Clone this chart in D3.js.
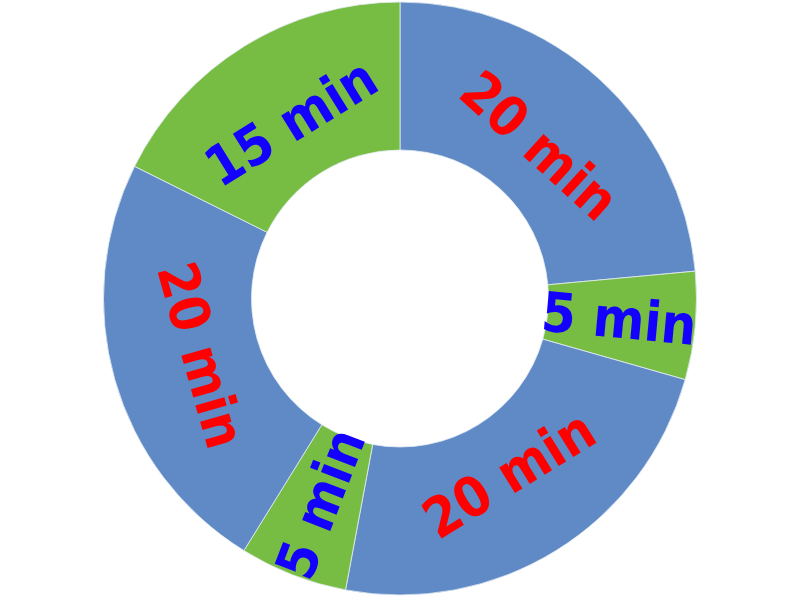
<!DOCTYPE html>
<html>
<head>
<meta charset="utf-8">
<script src="https://cdn.jsdelivr.net/npm/d3@7"></script>
<style>
html, body { margin: 0; padding: 0; background: #fff; }
svg { display: block; }
</style>
</head>
<body>
<svg id="chart" width="800" height="600"></svg>
<script>
const labels = ["20 min", "5 min", "20 min", "5 min", "20 min", "15 min"];
const values = [20, 5, 20, 5, 20, 15];
const sliceColors = ["#5f8ac6", "#77bd43", "#5f8ac6", "#77bd43", "#5f8ac6", "#77bd43"];
const labelColors = ["#ff0000", "#1400ff", "#ff0000", "#1400ff", "#ff0000", "#1400ff"];

const W = 800, H = 600;
const cx = 400, cy = 298.5;
const outerR = 296.5, innerR = 148.5;

const svg = d3.select("#chart");
const g = svg.append("g").attr("transform", `translate(${cx},${cy})`);

const pie = d3.pie().sort(null).value(d => d.value);
const data = pie(values.map((v, i) => ({ value: v, label: labels[i], i })));

const arc = d3.arc().innerRadius(innerR).outerRadius(outerR);
const wideArc = d3.arc().innerRadius(207).outerRadius(207);
const narrowArc = d3.arc().innerRadius(220).outerRadius(220);

g.selectAll("path.slice")
  .data(data)
  .join("path")
  .attr("class", "slice")
  .attr("d", arc)
  .attr("fill", d => sliceColors[d.data.i])
  .attr("stroke", "#e3ebf2")
  .attr("stroke-width", 0.8);

g.selectAll("text.lbl")
  .data(data)
  .join("text")
  .attr("class", "lbl")
  .attr("transform", d => {
    const span = (d.endAngle - d.startAngle) * 180 / Math.PI;
    const narrow = span < 30;
    const [x, y] = (narrow ? narrowArc : wideArc).centroid(d);
    const mid = (d.startAngle + d.endAngle) / 2 * 180 / Math.PI;
    let rot = narrow ? mid - 90 : mid;   // radial for narrow slices, tangential for wide
    rot = ((rot % 360) + 360) % 360;
    if (rot > 90 && rot < 270) rot -= 180;
    if (rot >= 270) rot -= 360;
    return `translate(${x},${y}) rotate(${rot})`;
  })
  .attr("text-anchor", "middle")
  .attr("dominant-baseline", "central")
  .attr("font-family", "'DejaVu Sans Condensed', 'DejaVu Sans', sans-serif")
  .attr("font-stretch", "condensed")
  .attr("font-weight", "bold")
  .attr("font-size", 55)
  .attr("fill", d => labelColors[d.data.i])
  .text(d => d.data.label);
</script>
</body>
</html>
